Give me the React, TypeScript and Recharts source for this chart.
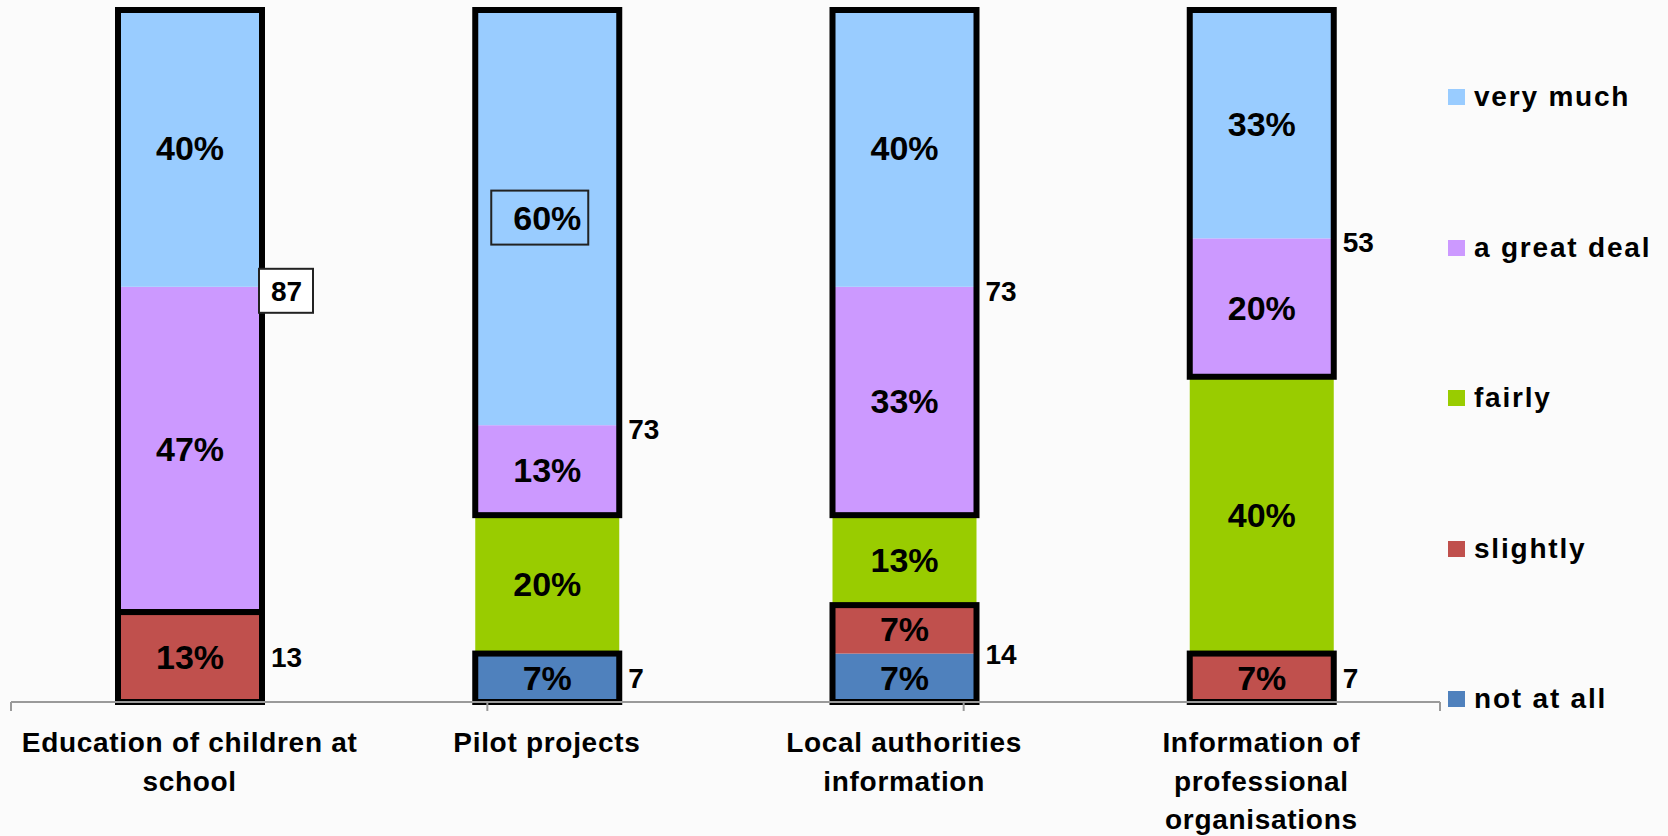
import * as React from 'react';
import { BarChart, Bar, XAxis, YAxis, Legend } from 'recharts';

const FONT = '"Liberation Sans", Arial, sans-serif';

const categories = [
  'Education of children at school',
  'Pilot projects',
  'Local authorities information',
  'Information of professional organisations',
];
const categoryLines = [
  ['Education of children at', 'school'],
  ['Pilot projects'],
  ['Local authorities', 'information'],
  ['Information of', 'professional', 'organisations'],
];

const veryMuch = [40, 60, 40, 33];
const greatDeal = [47, 13, 33, 20];
const fairly = [0, 20, 13, 40];
const slightly = [13, 0, 7, 7];
const notAtAll = [0, 7, 7, 0];

// which labels get a thin box in the original slide
const boxedShare = ['Pilot projects'];
const boxedTotal = ['Education of children at school'];

const series = [
  { key: 'notAtAll', name: 'not at all', color: '#4f81bd' },
  { key: 'slightly', name: 'slightly', color: '#c0504d' },
  { key: 'fairly', name: 'fairly', color: '#99cc00' },
  { key: 'greatDeal', name: 'a great deal', color: '#cc99ff' },
  { key: 'veryMuch', name: 'very much', color: '#99ccff' },
];

const data = categories.map((name, i) => ({
  name,
  veryMuch: veryMuch[i],
  greatDeal: greatDeal[i],
  fairly: fairly[i],
  slightly: slightly[i],
  notAtAll: notAtAll[i],
}));

const pctLabel = (cx: number, cy: number, v: number, boxed: boolean) => (
  <g>
    {boxed && (
      <rect x={cx - 56} y={cy - 27} width={97} height={54} fill="none" stroke="#222" strokeWidth={2} />
    )}
    <text x={cx} y={cy} dy={12} textAnchor="middle" fontSize={34} fontWeight="bold" fill="#000" fontFamily={FONT}>
      {v}%
    </text>
  </g>
);

const makeShape = (key: string) => (props: any) => {
  const { x, y, width, height, payload, fill } = props;
  const v = payload[key];
  if (!v) return <g />;
  return (
    <g>
      <rect x={x} y={y} width={width} height={height} fill={fill} />
      {pctLabel(x + width / 2, y + height / 2, v, false)}
    </g>
  );
};

// top segment also draws the group outlines and the side totals
const TopShape = (props: any) => {
  const { x, y, width, height, payload, fill } = props;
  const unit = height / payload.veryMuch;
  const topTotal = payload.veryMuch + payload.greatDeal;
  const bottomTotal = payload.slightly + payload.notAtAll;
  const topBottom = y + unit * topTotal;
  const stackBottom = topBottom + unit * (payload.fairly + bottomTotal);
  const bottomTop = stackBottom - unit * bottomTotal;
  const sideX = x + width + 9;
  const topLabelY = topBottom - unit * payload.greatDeal + 4;
  const bottomLabelY = (bottomTop + stackBottom) / 2;
  const boxed = boxedTotal.includes(payload.name);
  return (
    <g>
      <rect x={x} y={y} width={width} height={height} fill={fill} />
      {pctLabel(x + width / 2, y + height / 2, payload.veryMuch, boxedShare.includes(payload.name))}
      <rect x={x} y={y} width={width} height={topBottom - y} fill="none" stroke="#000" strokeWidth={6} />
      <rect x={x} y={bottomTop} width={width} height={stackBottom - bottomTop} fill="none" stroke="#000" strokeWidth={6} />
      {boxed && (
        <rect x={x + width - 3} y={topLabelY - 22} width={54} height={44} fill="#fff" stroke="#222" strokeWidth={2} />
      )}
      <text x={sideX} y={topLabelY} dy={10} fontSize={28} fontWeight="bold" fill="#000" fontFamily={FONT}>
        {topTotal}
      </text>
      <text x={sideX} y={bottomLabelY} dy={10} fontSize={28} fontWeight="bold" fill="#000" fontFamily={FONT}>
        {bottomTotal}
      </text>
    </g>
  );
};

const CategoryTick = (props: any) => {
  const { x, y, index } = props;
  const lines = categoryLines[index] ?? [props.payload.value];
  return (
    <text x={x} y={y + 49} textAnchor="middle" fontSize={28} fontWeight="bold" fill="#000" fontFamily={FONT} letterSpacing={0.7}>
      {lines.map((l: string, i: number) => (
        <tspan key={i} x={x} dy={i === 0 ? 0 : 38.5}>
          {l}
        </tspan>
      ))}
    </text>
  );
};

const legendOrder = [...series].reverse().map((s) => s.name);

const renderLegend = (props: any) => {
  const items = [...(props.payload ?? [])].sort(
    (a: any, b: any) => legendOrder.indexOf(a.value) - legendOrder.indexOf(b.value)
  );
  return (
    <div style={{ fontFamily: FONT }}>
      {items.map((it: any) => (
        <div key={it.value} style={{ height: 150.5, display: 'flex', alignItems: 'center' }}>
          <span style={{ width: 17, height: 16, background: it.color, display: 'inline-block', marginRight: 9 }} />
          <span style={{ fontSize: 28, fontWeight: 'bold', color: '#000', letterSpacing: 1.8 }}>{it.value}</span>
        </div>
      ))}
    </div>
  );
};

export default function App() {
  return (
    <div style={{ position: 'absolute', left: 0, top: 0, width: 1668, height: 836, background: '#fbfbfb' }}>
      <BarChart width={1668} height={836} data={data} margin={{ top: 10, right: 228, left: 11, bottom: 0 }}>
        <XAxis
          xAxisId="b"
          dataKey="name"
          height={133}
          axisLine={false}
          tickLine={false}
          tickSize={0}
          tickMargin={0}
          interval={0}
          tick={<CategoryTick />}
        />
        <XAxis
          xAxisId="a"
          type="number"
          domain={[0, 4]}
          ticks={[0, 1, 2, 3, 4]}
          allowDataOverflow
          height={1}
          tickFormatter={() => ''}
          tickSize={9}
          stroke="#9a9a9a"
          axisLine={{ stroke: '#9a9a9a', strokeWidth: 2 }}
          tickLine={{ stroke: '#9a9a9a', strokeWidth: 2 }}
        />
        <YAxis hide domain={[0, 100]} />
        <Legend
          layout="vertical"
          align="center"
          verticalAlign="middle"
          wrapperStyle={{ left: 1448, top: 22, width: 220, height: 760 }}
          content={renderLegend}
        />
        {series.map((s) => (
          <Bar
            key={s.key}
            xAxisId="b"
            dataKey={s.key}
            name={s.name}
            stackId="a"
            fill={s.color}
            barSize={144}
            isAnimationActive={false}
            shape={s.key === 'veryMuch' ? TopShape : makeShape(s.key)}
          />
        ))}
      </BarChart>
    </div>
  );
}
